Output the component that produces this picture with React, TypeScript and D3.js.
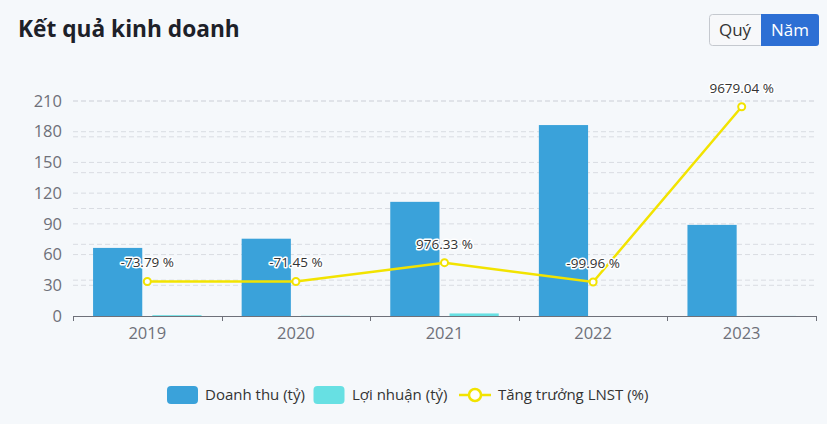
import React from 'react';
import * as d3 from 'd3';

const years = ['2019', '2020', '2021', '2022', '2023'];
const revenue = [66.5, 75.5, 111.5, 186.5, 89];
const profit = [0.8, 0.23, 2.5, 0.001, 0.1];
const growth = [-73.79, -71.45, 976.33, -99.96, 9679.04];
const leftTicks = [0, 30, 60, 90, 120, 150, 180, 210];
const rightTicks = [-2000, 0, 2000, 4000, 6000, 8000, 10000];
const legendItems = ['Doanh thu (tỷ)', 'Lợi nhuận (tỷ)', 'Tăng trưởng LNST (%)'];

const W = 827;
const H = 424;
const LEFT = 73;
const RIGHT = 816;
const TOP = 101;
const BOTTOM = 316;

const C_REV = '#3aa2da';
const C_PROF = '#67e0e3';
const C_LINE = '#f2e300';
const GRID = '#d9dce2';
const AXIS_TXT = '#6e7079';
const FONT = '"Open Sans", "Noto Sans", sans-serif';

const App = () => {
    const x = d3.scaleBand<string>().domain(years).range([LEFT, RIGHT]);
    const bw = x.bandwidth();
    const inner = d3
        .scaleBand<string>()
        .domain(['rev', 'prof'])
        .range([bw * 0.135, bw * 0.865])
        .paddingInner(0.17);
    const yL = d3.scaleLinear().domain([0, 210]).range([BOTTOM, TOP]);
    const yR = d3.scaleLinear().domain([-2000, 10000]).range([BOTTOM, TOP]);
    const cx = (y: string) => (x(y) ?? 0) + bw / 2;

    const line = d3
        .line<number>()
        .x((_, i) => cx(years[i]))
        .y(d => yR(d));

    return (
        <svg
            width={W}
            height={H}
            style={{ position: 'absolute', left: 0, top: 0, background: '#f5f8fb' }}
        >
            <text x={18} y={37} fontSize={22.7} fontWeight={700} fill='#1d2129' fontFamily={FONT}>
                Kết quả kinh doanh
            </text>

            {/* toggle */}
            <g fontFamily={FONT} fontSize={17}>
                <rect x={709.5} y={14.5} width={54} height={31} rx={3} fill='#f7f8fa' stroke='#c5c9cf' />
                <rect x={761} y={14} width={58} height={32} rx={3} fill='#2d6fd4' />
                <rect x={761} y={14} width={6} height={32} fill='#2d6fd4' />
                <text x={735} y={36} textAnchor='middle' fill='#333'>Quý</text>
                <text x={790} y={36} textAnchor='middle' fill='#fff'>Năm</text>
            </g>

            {/* grid */}
            {leftTicks.filter(t => t > 0).map(t => (
                <line key={'l' + t} x1={LEFT} x2={RIGHT} y1={yL(t)} y2={yL(t)} stroke={GRID} strokeDasharray='5,3' />
            ))}
            {rightTicks.filter(t => t > -2000).map(t => (
                <line key={'r' + t} x1={LEFT} x2={RIGHT} y1={yR(t)} y2={yR(t)} stroke={GRID} strokeDasharray='5,3' />
            ))}

            {leftTicks.map(t => (
                <text key={'lt' + t} x={62} y={yL(t)} dy='0.35em' textAnchor='end' fontSize={16.5} fill={AXIS_TXT} fontFamily={FONT}>
                    {t}
                </text>
            ))}

            {/* bars */}
            {years.map((yr, i) => (
                <g key={yr} transform={`translate(${x(yr)},0)`}>
                    <rect x={inner('rev')} y={yL(revenue[i])} width={inner.bandwidth()} height={BOTTOM - yL(revenue[i])} fill={C_REV} />
                    <rect x={inner('prof')} y={yL(profit[i])} width={inner.bandwidth()} height={BOTTOM - yL(profit[i])} fill={C_PROF} />
                </g>
            ))}

            {/* x axis */}
            <line x1={LEFT} x2={RIGHT} y1={BOTTOM + 0.5} y2={BOTTOM + 0.5} stroke='#6e7079' />
            {[...years.map(y => x(y) ?? 0), RIGHT].map((v, i) => (
                <line key={'tk' + i} x1={Math.round(v) + 0.5} x2={Math.round(v) + 0.5} y1={BOTTOM} y2={BOTTOM + 5} stroke='#6e7079' />
            ))}
            {years.map(yr => (
                <text key={'xl' + yr} x={cx(yr)} y={339} textAnchor='middle' fontSize={16.5} fill={AXIS_TXT} fontFamily={FONT}>
                    {yr}
                </text>
            ))}

            {/* line */}
            <path d={line(growth) ?? ''} fill='none' stroke={C_LINE} strokeWidth={2.5} />
            {growth.map((g, i) => (
                <circle key={'c' + i} cx={cx(years[i])} cy={yR(g)} r={3.5} fill='#fff' stroke={C_LINE} strokeWidth={2} />
            ))}
            {growth.map((g, i) => (
                <text
                    key={'gl' + i}
                    x={cx(years[i])}
                    y={yR(g) - 14}
                    textAnchor='middle'
                    fontSize={13.5}
                    fill='#333'
                    stroke='#fff'
                    strokeWidth={3}
                    paintOrder='stroke'
                    strokeLinejoin='round'
                    fontFamily={FONT}
                >
                    {g.toFixed(2)} %
                </text>
            ))}

            {/* legend */}
            <g fontFamily={FONT} fontSize={15} fill='#333'>
                <rect x={167} y={386} width={31} height={18} rx={4} fill={C_REV} />
                <text x={205} y={395} dy='0.35em'>{legendItems[0]}</text>
                <rect x={313.5} y={386} width={31} height={18} rx={4} fill={C_PROF} />
                <text x={352} y={395} dy='0.35em'>{legendItems[1]}</text>
                <line x1={459} x2={491} y1={395} y2={395} stroke={C_LINE} strokeWidth={2.5} />
                <circle cx={475} cy={395} r={6} fill='#fff' stroke={C_LINE} strokeWidth={2.5} />
                <text x={498} y={395} dy='0.35em'>{legendItems[2]}</text>
            </g>
        </svg>
    );
};

export default App;
